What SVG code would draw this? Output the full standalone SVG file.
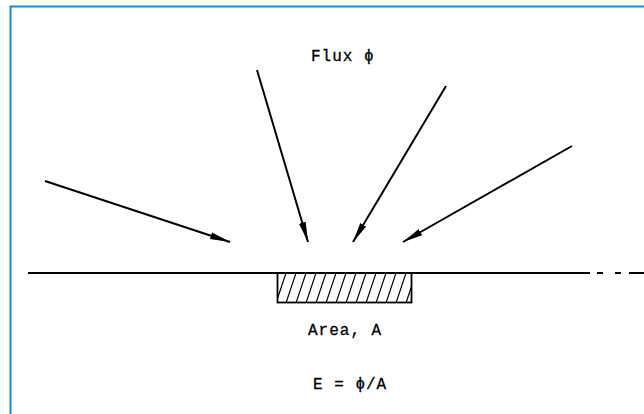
<svg xmlns="http://www.w3.org/2000/svg" width="644" height="414" viewBox="0 0 644 414">
<style>
.ln{stroke:#000;stroke-width:1.8;fill:none}
.ar{stroke:#000;stroke-width:2;fill:none;marker-end:url(#ah)}
.hat{stroke:#000;stroke-width:1.2}
.tx{font-family:"Liberation Mono","DejaVu Sans Mono",monospace;font-size:16px;letter-spacing:1px;fill:#000;stroke:#000;stroke-width:0.3}
</style>
<defs>
<marker id="ah" markerUnits="userSpaceOnUse" markerWidth="24" markerHeight="10" refX="20" refY="5" orient="auto" viewBox="0 0 24 10">
<path d="M0,1.5 L20,5 L0,8.5 z" fill="#000"/>
</marker>
<clipPath id="cp"><rect x="278" y="274" width="133" height="28"/></clipPath>
</defs>
<rect x="0" y="0" width="644" height="414" fill="#fff"/>
<path d="M10.5,414 V6.5 H644" stroke="#1a8ad4" stroke-width="2" fill="none"/>
<g id="surface">
<path class="ln" d="M28,273 H590"/>
<path class="ln" d="M597,273 H603 M615,273 H621 M629,273 H644" stroke-width="1.5"/>
</g>
<g id="area">
<rect x="277.5" y="273" width="134" height="29.5" class="ln"/>
<g clip-path="url(#cp)" class="hat">
<path d="M276,303 L286,273 M286,303 L296,273 M296,303 L306,273 M306,303 L316,273 M316,303 L326,273 M326,303 L336,273 M336,303 L346,273 M346,303 L356,273 M356,303 L366,273 M366,303 L376,273 M376,303 L386,273 M386,303 L396,273 M396,303 L406,273 M406,303 L416,273"/>
</g>
</g>
<g id="connectors">
<line class="ar" x1="45" y1="181" x2="230" y2="242"/>
<line class="ar" x1="257" y1="70" x2="308" y2="242"/>
<line class="ar" x1="446" y1="86" x2="353" y2="242"/>
<line class="ar" x1="572" y1="146" x2="403" y2="242"/>
</g>
<g id="labels">
<text class="tx" x="311" y="61">Flux ϕ</text>
<text class="tx" x="308" y="335">Area, A</text>
<text class="tx" x="313" y="389">E = ϕ/A</text>
</g>
</svg>
